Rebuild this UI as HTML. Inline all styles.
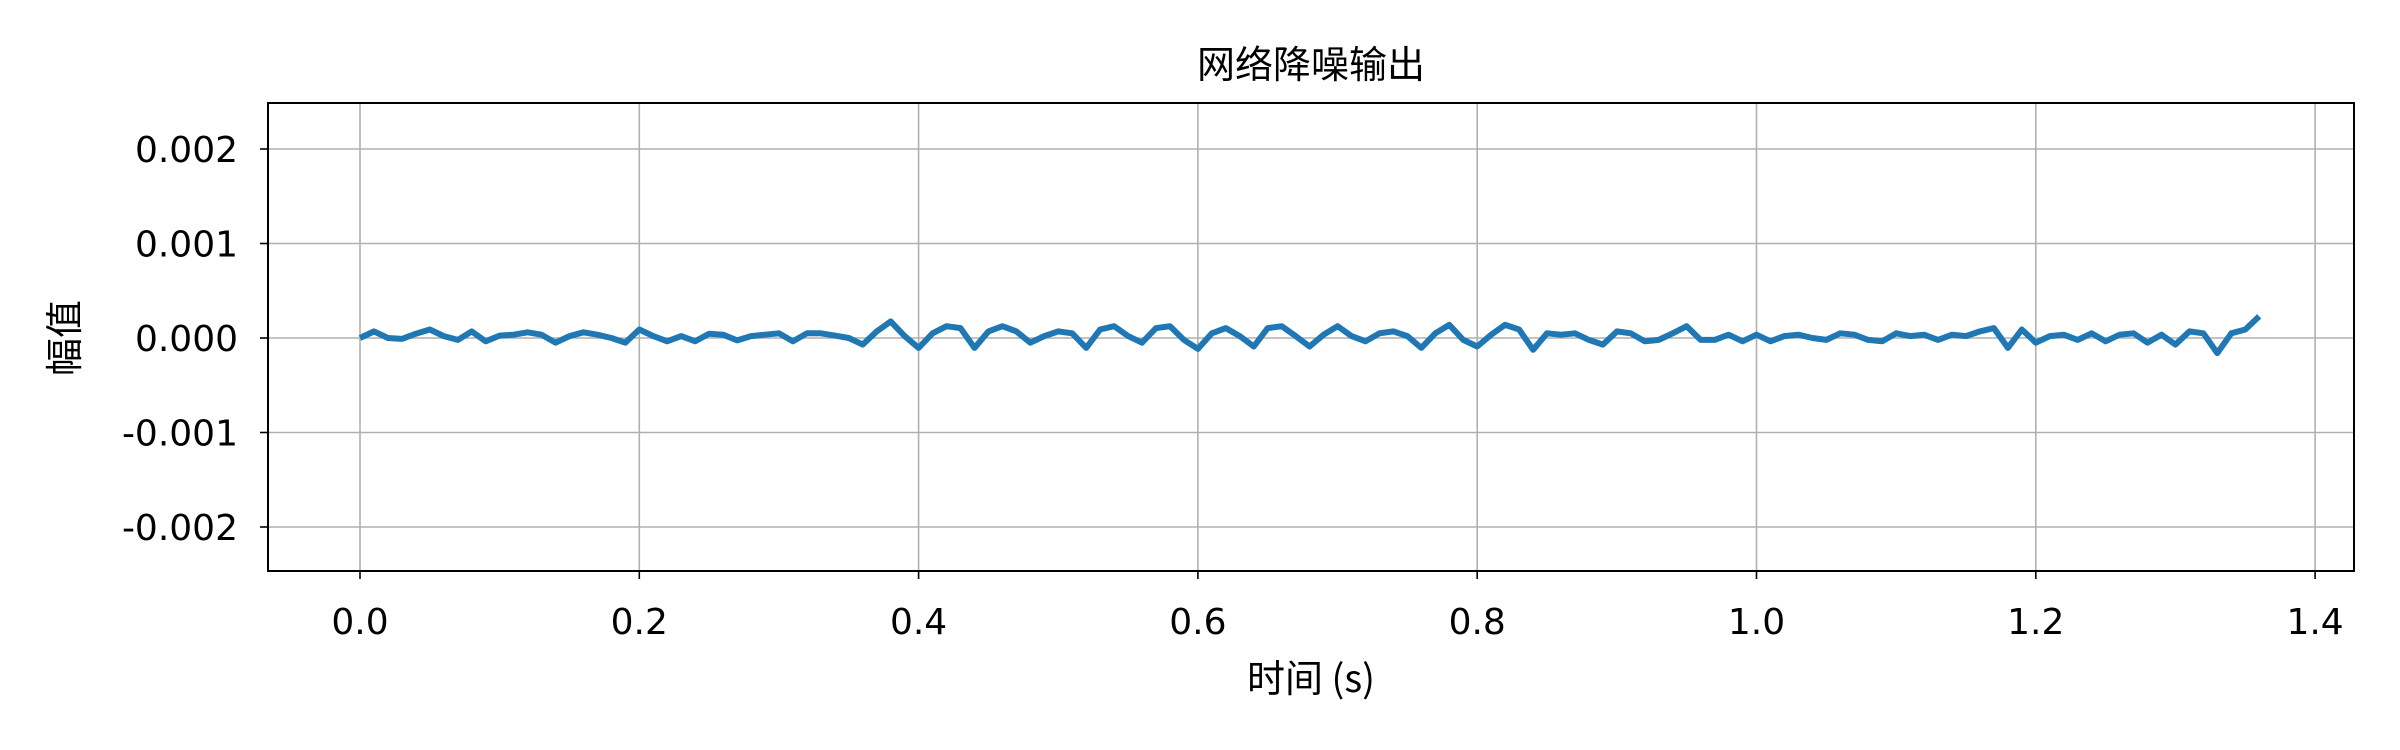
<!DOCTYPE html>
<html><head><meta charset="utf-8"><style>
html,body{margin:0;padding:0;background:#fff;}
svg{display:block;font-family:"DejaVu Sans","Noto Sans CJK SC",sans-serif;}
</style></head><body>
<svg id="chart" width="2400" height="750" viewBox="0 0 2400 750">
<rect x="0" y="0" width="2400" height="750" fill="#fff"/>
<g id="grid"></g>
<g id="series"></g>
<rect x="268" y="103" width="2086" height="468" fill="none" stroke="#000" stroke-width="2"/>
<g id="ticks"></g>
<text x="1311" y="78" text-anchor="middle" font-size="38" font-family="Noto Sans CJK SC, sans-serif">网络降噪输出</text>
<text x="1311" y="692" text-anchor="middle" font-size="38" font-family="Noto Sans CJK SC, sans-serif">时间 (s)</text>
<text x="0" y="0" transform="translate(78,338) rotate(-90)" text-anchor="middle" font-size="38" font-family="Noto Sans CJK SC, sans-serif">幅值</text>
</svg>
<script>
const xTicks = [0.0, 0.2, 0.4, 0.6, 0.8, 1.0, 1.2, 1.4];
const xTickLabels = ["0.0","0.2","0.4","0.6","0.8","1.0","1.2","1.4"];
const yTicks = [0.002, 0.001, 0, -0.001, -0.002];
const yTickLabels = ["0.002","0.001","0.000","-0.001","-0.002"];
const sampleStep = 0.01;
// amplitude in units of 1e-4, one sample per 0.01 s
const amplitude = [
0,0.7,0,-0.1,0.45,0.9,0.2,-0.2,0.7,-0.35,
0.25,0.35,0.6,0.35,-0.5,0.2,0.6,0.35,0,-0.5,
0.9,0.2,-0.35,0.2,-0.35,0.45,0.35,-0.25,0.2,0.35,
0.5,-0.35,0.5,0.5,0.25,0,-0.7,0.7,1.75,0.2,
-1.05,0.5,1.25,1.05,-1.05,0.7,1.25,0.7,-0.5,0.2,
0.7,0.5,-1.05,0.9,1.25,0.2,-0.5,1.05,1.25,-0.2,
-1.15,0.5,1.05,0.2,-0.9,1.05,1.25,0.2,-0.9,0.35,
1.25,0.2,-0.35,0.5,0.7,0.2,-1.05,0.5,1.4,-0.2,
-0.9,0.35,1.4,0.9,-1.25,0.5,0.35,0.5,-0.2,-0.7,
0.7,0.5,-0.35,-0.2,0.5,1.25,-0.2,-0.2,0.35,-0.35,
0.35,-0.35,0.2,0.35,0,-0.2,0.5,0.35,-0.2,-0.35,
0.5,0.2,0.35,-0.2,0.35,0.2,0.7,1.05,-1.05,0.9,
-0.5,0.2,0.35,-0.2,0.5,-0.35,0.35,0.5,-0.5,0.35,
-0.7,0.7,0.5,-1.6,0.5,0.9,2.3
];
const NS="http://www.w3.org/2000/svg";
const L=268,R=2354,T=103,B=571;
function xs(t){return 360+(t-0)*1396.5;}
function ys(v){return 338-v*94500;}
const grid=document.getElementById('grid'), ticks=document.getElementById('ticks'), series=document.getElementById('series');
function mk(tag,attrs,parent){const e=document.createElementNS(NS,tag);for(const k in attrs)e.setAttribute(k,attrs[k]);parent.appendChild(e);return e;}
xTicks.forEach((t,i)=>{
  const x=xs(t);
  const g=mk('line',{x1:x,x2:x,y1:T,y2:B,stroke:'#b0b0b0','stroke-width':1.6},grid);
  
  
  const tk=mk('line',{x1:x,x2:x,y1:B,y2:B+8,stroke:'#000','stroke-width':1.6},ticks);
  
  
  const lb=mk('text',{x:x,y:B+63,'text-anchor':'middle','font-size':36},ticks);
  lb.textContent=xTickLabels[i];
  
  
});
yTicks.forEach((v,i)=>{
  const y=ys(v);
  const g=mk('line',{x1:L,x2:R,y1:y,y2:y,stroke:'#b0b0b0','stroke-width':1.6},grid);
  
  
  const tk=mk('line',{x1:L-8,x2:L,y1:y,y2:y,stroke:'#000','stroke-width':1.6},ticks);
  
  
  const lb=mk('text',{x:L-30,y:y+13,'text-anchor':'end','font-size':36},ticks);
  lb.textContent=yTickLabels[i];
  
  
});
let d='';
amplitude.forEach((a,i)=>{d+=(i?'L':'M')+xs(i*sampleStep).toFixed(1)+','+ys(a*1e-4).toFixed(1);});
const p=mk('path',{d:d,fill:'none',stroke:'#1f77b4','stroke-width':6,'stroke-linejoin':'round'},series);


</script>
</body></html>
